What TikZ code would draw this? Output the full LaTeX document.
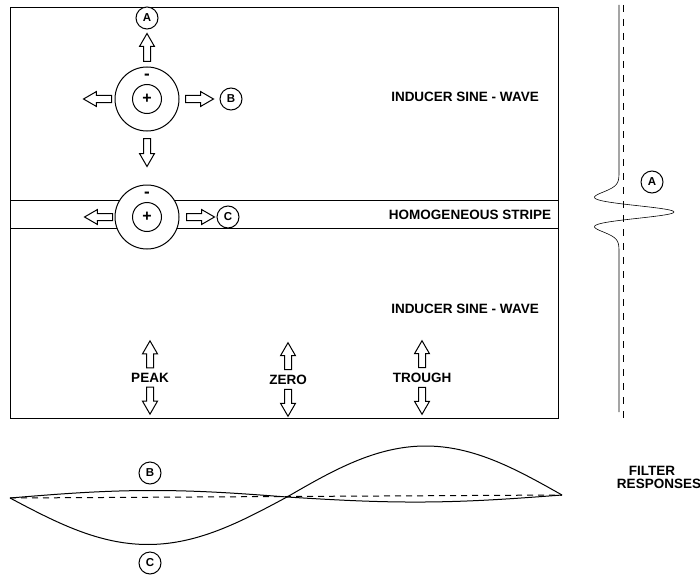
\documentclass[tikz,border=0pt]{standalone}
\usepackage{fontspec}
\newfontfamily\labelfont{Liberation Sans}
\usetikzlibrary{shapes.arrows, positioning}

\begin{document}
\begin{tikzpicture}[x=1pt, y=-1pt, line width=1pt,
    lbl/.style={font=\labelfont\bfseries\fontsize{13.5}{15}\selectfont, inner sep=0pt},
    field/.style={circle, draw, fill=white, minimum size=64pt, inner sep=0pt},
    centre/.style={circle, draw, minimum size=29pt, inner sep=0pt, font=\labelfont\bfseries\fontsize{16}{16}\selectfont},
    tag/.style={circle, draw, fill=white, minimum size=22pt, inner sep=0pt, font=\labelfont\bfseries\fontsize{11.5}{11.5}\selectfont},
    blockarr/.style={single arrow, draw, fill=white, inner sep=3pt, outer sep=0pt, minimum height=28pt,
      single arrow head extend=4pt, single arrow tip angle=60}]
  \useasboundingbox (0,0) rectangle (700,575);

  % panel with the stripe
  \draw (10,8) rectangle (558,418);
  \draw (10,200) -- (558,200);
  \draw (10,228) -- (558,228);

  \node[lbl] (ind1) at (465,97) {INDUCER SINE - WAVE};
  \node[lbl] (homog) at (470,215) {HOMOGENEOUS STRIPE};
  \node[lbl] (ind2) at (465,309) {INDUCER SINE - WAVE};

  % upper receptive field
  \node[field] (rf1) at (147,99) {};
  \node[centre] (on1) at (rf1.center) {+};
  \node[lbl, font=\labelfont\bfseries\fontsize{17}{17}\selectfont] (off1) at (147,77) {-};
  \node[blockarr, shape border rotate=90, above=5pt of rf1] (up1) {};
  \node[tag, above=4pt of up1] (tagA) {A};
  \node[blockarr, shape border rotate=180, left=3pt of rf1] (left1) {};
  \node[blockarr, shape border rotate=0, right=6pt of rf1] (right1) {};
  \node[tag, right=6pt of right1] (tagB) {B};
  \node[blockarr, shape border rotate=270, below=7pt of rf1] (down1) {};

  % receptive field on the stripe
  \node[field] (rf2) at (147,217) {};
  \node[centre] (on2) at (rf2.center) {+};
  \node[lbl, font=\labelfont\bfseries\fontsize{17}{17}\selectfont] (off2) at (147,195) {-};
  \node[blockarr, shape border rotate=180, left=2pt of rf2] (left2) {};
  \node[blockarr, shape border rotate=0, right=7pt of rf2] (right2) {};
  \node[tag, right=2pt of right2] (tagC) {C};

  % peak / zero / trough
  \node[lbl] (peak) at (150,378) {PEAK};
  \node[lbl] (zero) at (288,380) {ZERO};
  \node[lbl] (trough) at (422,378) {TROUGH};
  \foreach \p in {peak, zero, trough} {
    \node[blockarr, minimum height=27pt, shape border rotate=90, above=5pt of \p] (\p-up) {};
    \node[blockarr, minimum height=27pt, shape border rotate=270, below=4pt of \p] (\p-dn) {};
  }

  % response of A
  \draw[line width=0.6pt] (619,5) -- (619,170)
    -- plot[domain=-42:42, samples=85, smooth] ({619+55*(1-\x*\x/72.25)*exp(-\x*\x/144.5)}, {212+\x})
    -- (619,412);
  \draw[line width=0.6pt, dash pattern=on 7pt off 7pt] (623,5) -- (623,418);
  \node[tag] (tagA2) at (652,182) {A};

  % responses of B and C
  \coordinate (L) at (10,498);
  \coordinate (X) at (287,497);
  \coordinate (R) at (562,495);
  \draw[dash pattern=on 6pt off 5pt] (L) -- (R);
  \draw plot[domain=0:1, samples=40, smooth] ({10+277*\x}, {498-\x-7*sin(180*\x)})
    -- plot[domain=0:1, samples=40, smooth] ({287+275*\x}, {497-2*\x-50*sin(180*\x)});
  \draw plot[domain=0:1, samples=40, smooth] ({10+277*\x}, {498-\x+47*sin(180*\x)})
    -- plot[domain=0:1, samples=40, smooth] ({287+275*\x}, {497-2*\x+6*sin(180*\x)});
  \node[tag] (tagB2) at (150,473) {B};
  \node[tag] (tagC2) at (150,563) {C};

  \node[lbl] (filt) at (652,471) {FILTER};
  \node[lbl] (resp) at (659,484) {RESPONSES};
\end{tikzpicture}
\end{document}
